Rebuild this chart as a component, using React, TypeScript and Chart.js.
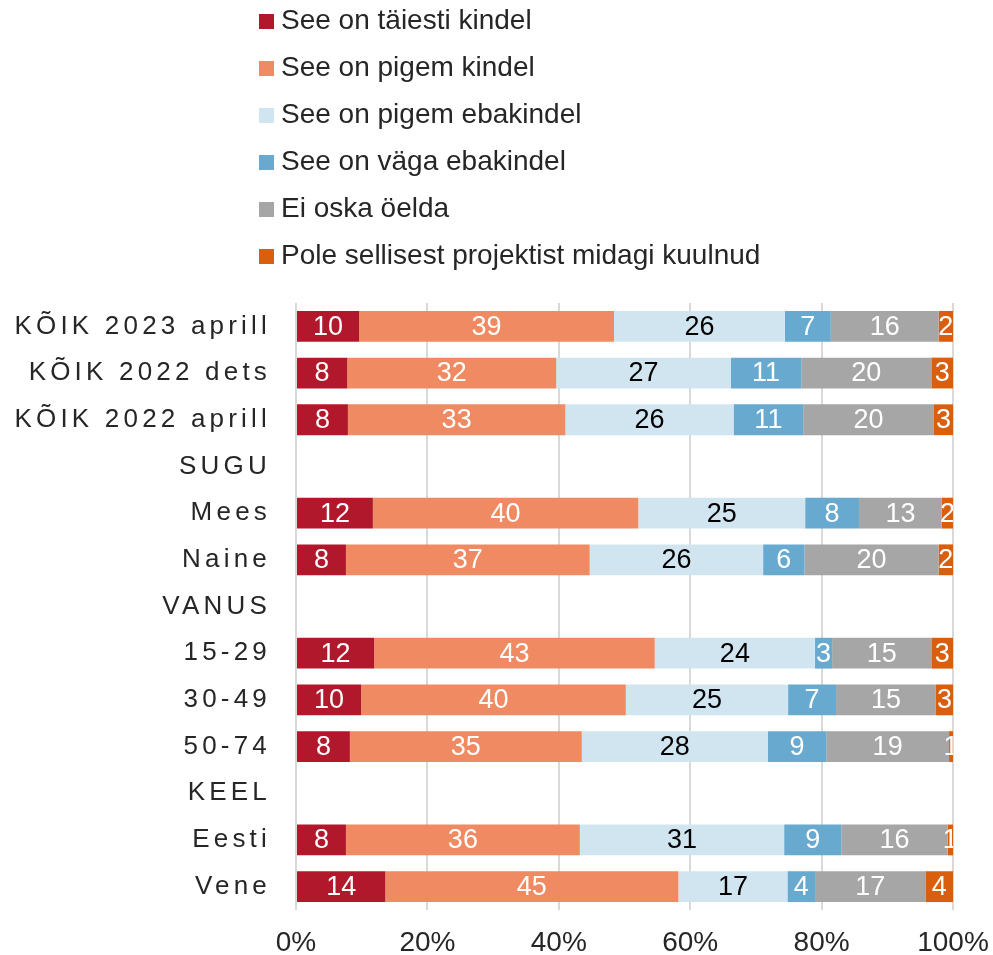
import React, { useEffect, useRef } from 'react';
import { Chart, registerables } from 'chart.js';

Chart.register(...registerables);

const categories = [
  'KÕIK 2023 aprill',
  'KÕIK 2022 dets',
  'KÕIK 2022 aprill',
  'SUGU',
  'Mees',
  'Naine',
  'VANUS',
  '15-29',
  '30-49',
  '50-74',
  'KEEL',
  'Eesti',
  'Vene',
];

const seriesNames = [
  'See on täiesti kindel',
  'See on pigem kindel',
  'See on pigem ebakindel',
  'See on väga ebakindel',
  'Ei oska öelda',
  'Pole sellisest projektist midagi kuulnud',
];

const seriesColors = ['#B2182B', '#EF8A62', '#D1E5F0', '#67A9CF', '#A6A6A6', '#D95F0E'];
const labelColors = ['#FFFFFF', '#FFFFFF', '#000000', '#FFFFFF', '#FFFFFF', '#FFFFFF'];

const taiestiKindel = [9.6, 7.8, 7.9, null, 11.7, 7.6, null, 11.9, 9.9, 8.2, null, 7.6, 13.6];
const pigemKindel = [38.8, 31.8, 33.1, null, 40.4, 37.1, null, 42.7, 40.3, 35.3, null, 35.6, 44.6];
const pigemEbakindel = [26.0, 26.6, 25.6, null, 25.4, 26.4, null, 24.4, 24.7, 28.3, null, 31.1, 16.6];
const vagaEbakindel = [7.0, 10.7, 10.6, null, 8.2, 6.3, null, 2.6, 7.3, 8.9, null, 8.7, 4.2];
const eiOskaOelda = [16.4, 19.8, 19.9, null, 12.6, 20.4, null, 15.1, 15.2, 18.7, null, 16.2, 16.8];
const poleKuulnud = [2.2, 3.3, 2.9, null, 1.7, 2.2, null, 3.3, 2.6, 0.6, null, 0.8, 4.2];

const seriesValues = [taiestiKindel, pigemKindel, pigemEbakindel, vagaEbakindel, eiOskaOelda, poleKuulnud];

const xTickValues = [0, 20, 40, 60, 80, 100];

const FONT = '"Liberation Sans", Arial, Helvetica, sans-serif';
const TEXT_COLOR = '#262626';

const legendPlugin = {
  id: 'customLegend',
  afterDraw(chart: any) {
    const ctx = chart.ctx;
    ctx.save();
    ctx.font = `28px ${FONT}`;
    ctx.textAlign = 'left';
    ctx.textBaseline = 'alphabetic';
    seriesNames.forEach((name, i) => {
      const top = 14 + 47 * i;
      ctx.fillStyle = seriesColors[i];
      ctx.fillRect(259, top, 15, 15);
      ctx.fillStyle = TEXT_COLOR;
      ctx.fillText(name, 281, top + 15.3);
    });
    ctx.restore();
  },
};

const categoryLabelPlugin = {
  id: 'categoryLabels',
  afterDraw(chart: any) {
    const ctx = chart.ctx;
    const yScale = chart.scales.y;
    ctx.save();
    ctx.font = `26px ${FONT}`;
    (ctx as any).letterSpacing = '4.2px';
    ctx.textAlign = 'right';
    ctx.textBaseline = 'middle';
    ctx.fillStyle = TEXT_COLOR;
    categories.forEach((c, i) => {
      const y = yScale.getPixelForValue(i);
      ctx.fillText(c, 271, y);
    });
    ctx.restore();
  },
};

const dataLabelPlugin = {
  id: 'segmentLabels',
  afterDatasetsDraw(chart: any) {
    const ctx = chart.ctx;
    const area = chart.chartArea;
    ctx.save();
    ctx.beginPath();
    ctx.rect(area.left, area.top, area.right - area.left, area.bottom - area.top);
    ctx.clip();
    ctx.font = `27px ${FONT}`;
    ctx.textAlign = 'center';
    ctx.textBaseline = 'middle';
    chart.data.datasets.forEach((ds: any, di: number) => {
      const meta = chart.getDatasetMeta(di);
      meta.data.forEach((el: any, i: number) => {
        const v = ds.data[i];
        if (v === null || v === undefined) return;
        const { x, base, y } = el.getProps(['x', 'base', 'y'], true);
        ctx.fillStyle = labelColors[di];
        ctx.fillText(String(Math.round(v)), (x + base) / 2, y + 1);
      });
    });
    ctx.restore();
  },
};

export default function App() {
  const canvasRef = useRef<HTMLCanvasElement | null>(null);

  useEffect(() => {
    document.body.style.margin = '0';
    const canvas = canvasRef.current;
    if (!canvas) return;
    const chart = new Chart(canvas, {
      type: 'bar',
      data: {
        labels: categories,
        datasets: seriesNames.map((name, i) => ({
          label: name,
          data: seriesValues[i],
          backgroundColor: seriesColors[i],
          borderWidth: 0,
          barPercentage: 0.66,
          categoryPercentage: 1,
        })),
      },
      options: {
        indexAxis: 'y',
        responsive: false,
        animation: false,
        devicePixelRatio: 1,
        layout: { padding: { top: 303, right: 40, left: 0, bottom: 0 } },
        plugins: {
          legend: { display: false },
          tooltip: { enabled: false },
          title: { display: false },
        },
        scales: {
          x: {
            stacked: true,
            min: 0,
            max: 100,
            afterBuildTicks(scale: any) {
              scale.ticks = xTickValues.map((v) => ({ value: v }));
            },
            afterFit(scale: any) {
              scale.height = 45;
              scale.paddingLeft = 0;
              scale.paddingRight = 0;
            },
            grid: { color: '#D9D9D9', lineWidth: 2, drawTicks: false },
            border: { display: false },
            ticks: {
              autoSkip: false,
              maxRotation: 0,
              padding: 21,
              color: TEXT_COLOR,
              font: { family: FONT, size: 28, lineHeight: 0.85 },
              callback: (v: any) => `${v}%`,
            },
          },
          y: {
            stacked: true,
            grid: { display: false },
            border: { display: false },
            ticks: { display: false },
            afterFit(scale: any) {
              scale.width = 296;
            },
          },
        },
      },
      plugins: [legendPlugin, categoryLabelPlugin, dataLabelPlugin],
    } as any);
    return () => chart.destroy();
  }, []);

  return (
    <canvas
      ref={canvasRef}
      width={993}
      height={955}
      style={{ display: 'block', width: 993, height: 955 }}
    />
  );
}
